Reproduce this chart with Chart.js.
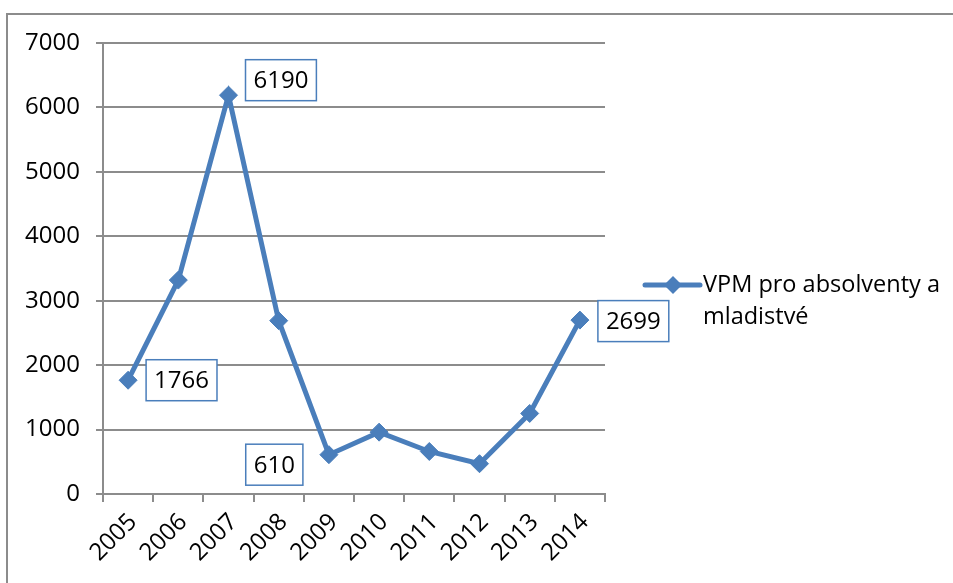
<!DOCTYPE html>
<html>
<head>
<meta charset="utf-8">
<script src="https://cdn.jsdelivr.net/npm/chart.js@4.4.0/dist/chart.umd.min.js"></script>
<style>
  html, body { margin: 0; padding: 0; background: #fff; }
  #wrap { width: 953px; height: 583px; }
</style>
</head>
<body>
<div id="wrap"><canvas id="grafico" width="953" height="583"></canvas></div>
<script>
// Data
const roky = ['2005', '2006', '2007', '2008', '2009', '2010', '2011', '2012', '2013', '2014'];
const hodnoty = [1766, 3320, 6190, 2690, 610, 960, 660, 470, 1250, 2699];
const nazevRady = 'VPM pro absolventy a mladistvé';
const osaY = [0, 1000, 2000, 3000, 4000, 5000, 6000, 7000];
const popisky = [0, 2, 4, 9]; // body s rámečkem hodnoty

const modra = '#4a7ebb';
const seda = '#8c8c8c';
const pismo = '"Open Sans", "Liberation Sans", sans-serif';

// umístění rámečků vůči bodu: [dx, dy, strana]
const umisteni = {
    0: [18, 0, 'left'],
    2: [17, -15, 'left'],
    4: [-26, 10, 'right'],
    9: [18, 1, 'left']
};

// Rámeček kolem celého grafu (jen levá a horní hrana jsou vidět)
const ramecek = {
    id: 'ramecek',
    beforeDraw(chart) {
        const ctx = chart.ctx;
        ctx.save();
        ctx.strokeStyle = seda;
        ctx.lineWidth = 2;
        ctx.beginPath();
        ctx.moveTo(7, chart.height);
        ctx.lineTo(7, 14);
        ctx.lineTo(chart.width, 14);
        ctx.stroke();
        ctx.restore();
    }
};

// Popisky hodnot v rámečcích
const hodnotyBoxy = {
    id: 'hodnotyBoxy',
    afterDatasetsDraw(chart) {
        const ctx = chart.ctx;
        const meta = chart.getDatasetMeta(0);
        ctx.save();
        ctx.font = '24px ' + pismo;
        ctx.textAlign = 'center';
        ctx.textBaseline = 'middle';
        popisky.forEach(i => {
            const p = meta.data[i];
            const text = String(hodnoty[i]);
            const w = ctx.measureText(text).width + 16;
            const h = 41;
            const [dx, dy, strana] = umisteni[i];
            const x0 = strana === 'left' ? p.x + dx : p.x + dx - w;
            const y0 = p.y + dy - h / 2;
            ctx.fillStyle = '#fff';
            ctx.fillRect(x0, y0, w, h);
            ctx.strokeStyle = modra;
            ctx.lineWidth = 1.5;
            ctx.strokeRect(x0, y0, w, h);
            ctx.fillStyle = '#000';
            ctx.fillText(text, x0 + w / 2, y0 + h / 2 + 1);
        });
        ctx.restore();
    }
};

// Legenda vpravo, zalomená na dva řádky
const legenda = {
    id: 'legenda',
    afterDraw(chart) {
        const ctx = chart.ctx;
        const area = chart.chartArea;
        const x0 = area.right + 40;
        const y0 = 285;
        ctx.save();
        ctx.font = '23.5px ' + pismo;
        // zalomení textu
        const slova = chart.data.datasets[0].label.split(' ');
        const radky = [];
        let radek = '';
        slova.forEach(s => {
            const zkus = radek ? radek + ' ' + s : s;
            if (ctx.measureText(zkus).width > 245 && radek) {
                radky.push(radek);
                radek = s;
            } else {
                radek = zkus;
            }
        });
        radky.push(radek);

        ctx.strokeStyle = modra;
        ctx.lineWidth = 5;
        ctx.lineCap = 'round';
        ctx.beginPath();
        ctx.moveTo(x0, y0);
        ctx.lineTo(x0 + 55, y0);
        ctx.stroke();
        ctx.fillStyle = modra;
        ctx.beginPath();
        const cx = x0 + 28, r = 9;
        ctx.moveTo(cx - r, y0);
        ctx.lineTo(cx, y0 - r);
        ctx.lineTo(cx + r, y0);
        ctx.lineTo(cx, y0 + r);
        ctx.closePath();
        ctx.fill();

        ctx.fillStyle = '#000';
        ctx.textAlign = 'left';
        ctx.textBaseline = 'middle';
        radky.forEach((t, k) => ctx.fillText(t, x0 + 58, y0 + k * 32));
        ctx.restore();
    }
};

const graf = new Chart(document.getElementById('grafico').getContext('2d'), {
    type: 'line',
    data: {
        labels: roky,
        datasets: [{
            label: nazevRady,
            data: hodnoty,
            borderColor: modra,
            backgroundColor: modra,
            borderWidth: 5,
            tension: 0,
            pointStyle: 'rectRot',
            pointRadius: 9,
            pointBorderWidth: 1,
            pointBackgroundColor: modra,
            pointBorderColor: modra,
            clip: false
        }]
    },
    options: {
        responsive: false,
        animation: false,
        layout: { padding: { left: 0, top: 43, right: 348, bottom: 0 } },
        plugins: {
            legend: { display: false },
            tooltip: { enabled: false }
        },
        scales: {
            x: {
                offset: true,
                afterFit(scale) { scale.height = 89; },
                grid: {
                    offset: true,
                    drawOnChartArea: false,
                    drawTicks: true,
                    tickLength: 8,
                    color: seda,
                    lineWidth: 2
                },
                border: { color: seda, width: 2 },
                ticks: {
                    autoSkip: false,
                    minRotation: 45,
                    maxRotation: 45,
                    padding: 6,
                    labelOffset: 5,
                    color: '#000',
                    font: { family: pismo, size: 24 }
                }
            },
            y: {
                min: 0,
                max: 7000,
                afterFit(scale) { scale.width = 103; },
                afterBuildTicks(scale) { scale.ticks = osaY.map(v => ({ value: v })); },
                grid: {
                    color: seda,
                    lineWidth: 2,
                    drawTicks: true,
                    tickLength: 7
                },
                border: { color: seda, width: 2 },
                ticks: {
                    padding: 16,
                    color: '#000',
                    font: { family: pismo, size: 24 },
                    callback: v => String(v)
                }
            }
        }
    },
    plugins: [ramecek, hodnotyBoxy, legenda]
});
</script>
</body>
</html>
